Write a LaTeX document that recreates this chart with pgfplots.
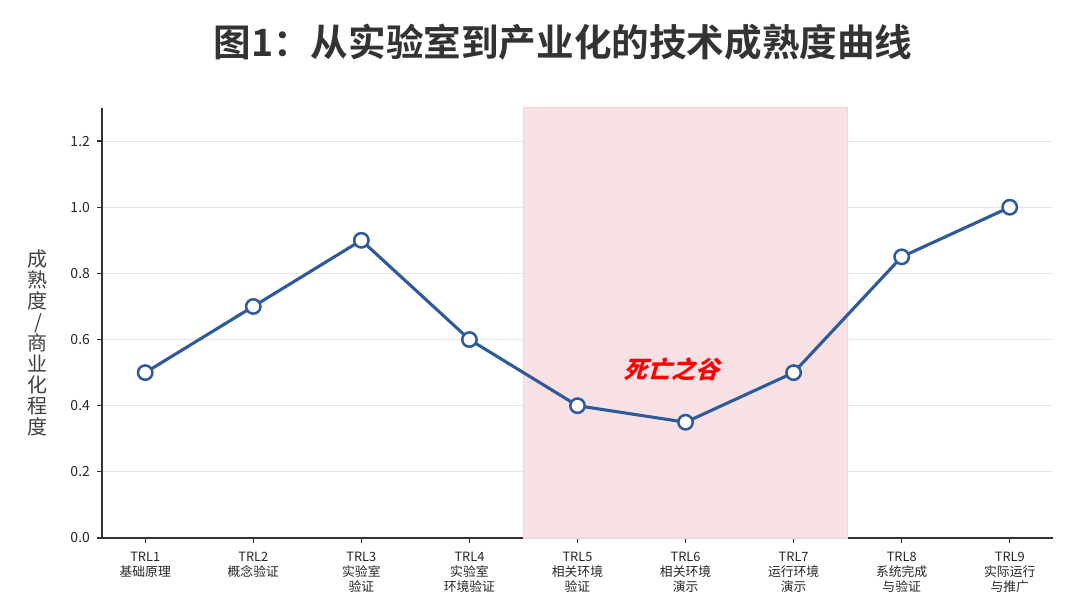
\documentclass[border=0pt]{standalone}
\usepackage{fontspec}
\setmainfont{Noto Sans CJK SC}
\newfontfamily\cjkb{Noto Sans CJK SC}[BoldFont={Noto Sans CJK SC Bold}]
\usepackage{pgfplots}
\pgfplotsset{compat=1.18}
\definecolor{lineblue}{RGB}{46,90,156}
\definecolor{titlegray}{RGB}{51,51,51}
\definecolor{shade}{RGB}{248,225,228}
\definecolor{shadeedge}{RGB}{244,210,214}
\begin{document}
\begin{tikzpicture}
\path[use as bounding box] (-51pt,-36.5pt) rectangle (489pt,269pt);
\begin{axis}[
  at={(0,0)}, anchor=south west,
  scale only axis, width=475.5pt, height=215pt,
  xmin=-0.4, xmax=8.4, ymin=0, ymax=1.3,
  axis lines=left, axis line style={-, line width=0.7pt, color=black!80},
  tick align=outside, major tick length=2.5pt,
  tick style={line width=0.6pt, color=black!80},
  xtick={0,1,2,3,4,5,6,7,8},
  xticklabels={{TRL1\\基础原理},{TRL2\\概念验证},{TRL3\\实验室\\验证},{TRL4\\实验室\\环境验证},{TRL5\\相关环境\\验证},{TRL6\\相关环境\\演示},{TRL7\\运行环境\\演示},{TRL8\\系统完成\\与验证},{TRL9\\实际运行\\与推广}},
  xticklabel style={align=center, font=\fontsize{6.4}{7.5}\selectfont, text=black!85, yshift=-1pt},
  ytick={0,0.2,0.4,0.6,0.8,1.0,1.2},
  yticklabel style={font=\fontsize{7}{8}\selectfont, text=black!85},
  /pgf/number format/assume math mode=true,
  /pgf/number format/fixed, /pgf/number format/fixed zerofill, /pgf/number format/precision=1,
  ymajorgrids, grid style={line width=0.5pt, color=black!10},
  clip=false,
]
\addplot[fill=shade, draw=shadeedge, line width=0.5pt] coordinates {(3.5,0) (6.5,0) (6.5,1.3) (3.5,1.3)} -- cycle;
\addplot[color=lineblue, line width=1.55pt, mark=*, mark size=3.6pt, mark options={fill=white, draw=lineblue, line width=1.25pt}] coordinates {
(0,0.5) (1,0.7) (2,0.9) (3,0.6) (4,0.4) (5,0.35) (6,0.5) (7,0.85) (8,1.0)};
\node[font=\fontsize{12}{12}\selectfont\bfseries, text=red, xslant=0.3] at (axis cs:4.9,0.51) {死亡之谷};
\end{axis}
\node[font=\fontsize{10}{10.5}\selectfont, text=black!75, align=center] at (-32pt,97.5pt) {成\\熟\\度\\/\\商\\业\\化\\程\\度};
\node[font=\cjkb\fontsize{18.8}{20}\selectfont\bfseries, text=titlegray] at (230.5pt,248pt) {图1：从实验室到产业化的技术成熟度曲线};
\end{tikzpicture}
\end{document}
